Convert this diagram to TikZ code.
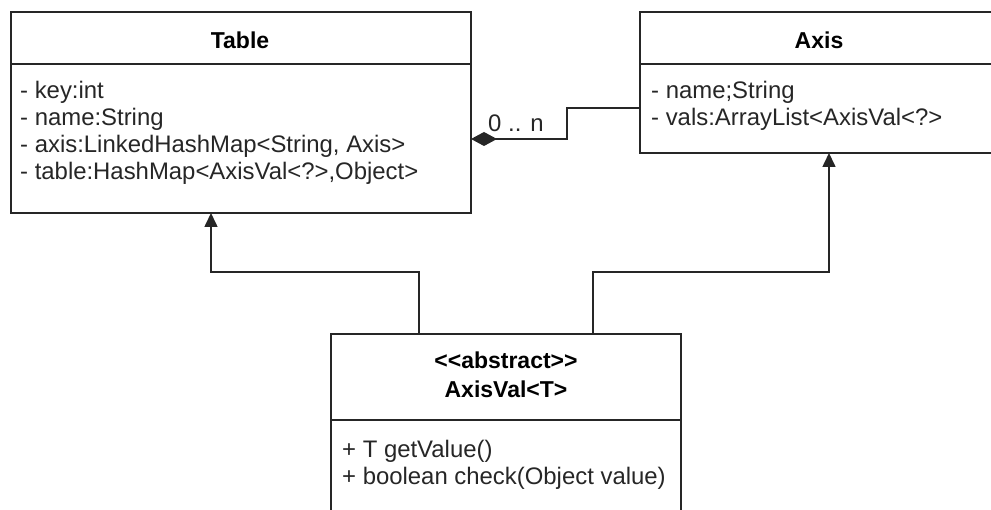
\documentclass[tikz,border=0pt]{standalone}
\usepackage{fontspec}
\setmainfont{Liberation Sans}
\usetikzlibrary{arrows.meta,calc}
\tikzset{
  umlbox/.style={draw=black!85, line width=1.6pt, rectangle, inner sep=0pt, outer sep=0pt},
  sep/.style={draw=black!85, line width=1.6pt},
  attr/.style={anchor=base west, inner sep=0pt, text=black!85, font=\fontsize{23.9}{27}\selectfont},
  ttl/.style={anchor=base, inner sep=0pt, text=black, font=\fontsize{23}{27}\selectfont\bfseries},
  gen/.style={draw=black!85, line width=1.6pt, -{Triangle[width=13pt,length=14pt]}},
  comp/.style={draw=black!85, line width=1.6pt, -{Diamond[width=14pt,length=26pt]}},
}
\begin{document}
\begin{tikzpicture}[x=1pt,y=1pt]
\useasboundingbox (0,0) rectangle (991,-510);
\clip (0,0) rectangle (991,-510);
% Table
\node[umlbox, minimum width=460pt, minimum height=201pt] (table) at (241,-112.5) {};
\draw[sep] (11,-64) -- (471,-64);
\node[ttl] (tablet) at (240,-49) {Table};
\node[attr] (ta1) at (20,-99) {- key:int};
\node[attr] (ta2) at (20,-126) {- name:String};
\node[attr] (ta3) at (20,-153) {- axis:LinkedHashMap<String, Axis>};
\node[attr] (ta4) at (20,-180) {- table:HashMap<AxisVal<?>,Object>};
% Axis
\node[umlbox, minimum width=358pt, minimum height=141pt] (axis) at (819,-82.5) {};
\draw[sep] (640,-64) -- (998,-64);
\node[ttl] (axist) at (819,-49) {Axis};
\node[attr] (aa1) at (651,-99) {- name;String};
\node[attr] (aa2) at (651,-126) {- vals:ArrayList<AxisVal<?>};
% AxisVal
\node[umlbox, minimum width=350pt, minimum height=206pt] (axisval) at (506,-437) {};
\draw[sep] (331,-420) -- (681,-420);
\node[ttl] (avt1) at (506,-369) {{<}{<}abstract{>}{>}};
\node[ttl] (avt2) at (506,-398) {AxisVal<T>};
\node[attr] (am1) at (342,-457) {+ T getValue()};
\node[attr] (am2) at (342,-484) {+ boolean check(Object value)};
% connectors
\coordinate (g1) at ($(axisval.north west)+(88,0)$);
\coordinate (g2) at ($(axisval.north west)+(262,0)$);
\coordinate (t1) at ($(table.south west)+(200,0)$);
\coordinate (x1) at ($(axis.south west)+(189,0)$);
\draw[gen] (g1) -- (g1 |- 0,-272) -| (t1);
\draw[gen] (g2) -- (g2 |- 0,-272) -| (x1);
\coordinate (c1) at ($(axis.north west)+(0,-96)$);
\coordinate (c2) at ($(table.north east)+(0,-127)$);
\draw[comp] (c1) -- (567,-108) -- (567,-139) -- (c2);
\node[attr] (mult) at (488,-132) {0 .. n};
\end{tikzpicture}
\end{document}
